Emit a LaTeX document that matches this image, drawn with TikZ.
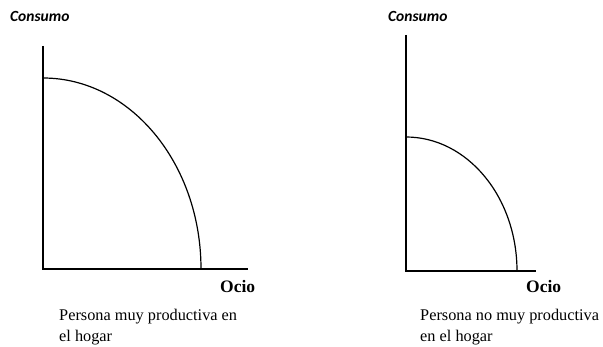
\documentclass[tikz,border=0pt]{standalone}
\usepackage{fontspec}
\setmainfont{Liberation Serif}
\newfontfamily\calib{Carlito}
\begin{document}
\begin{tikzpicture}[x=1pt,y=-1pt,
  axis/.style={line width=2.6pt},
  curve/.style={line width=1.2pt},
  ylab/.style={anchor=base west,inner sep=0pt,font=\calib\bfseries\itshape\fontsize{15.5}{18}\selectfont},
  xlab/.style={anchor=base west,inner sep=0pt,font=\bfseries\fontsize{17.5}{20}\selectfont},
  caption/.style={anchor=base west,inner sep=0pt,font=\fontsize{16.3}{20.5}\selectfont,align=left}]
\useasboundingbox (0,0) rectangle (603,347);
% left graph
\coordinate (O1) at (43,269);
\coordinate (T1) at (43,46);
\coordinate (R1) at (248,269);
\draw[axis] (T1) -- (O1) -- (R1);
\draw[curve] (43,78) arc[start angle=-90,end angle=0,x radius=158,y radius=191];
\node[ylab] (c1) at (10,22) {Consumo};
\node[xlab] (o1) at (220,293) {Ocio};
\node[caption] (p1) at (59,321) {Persona muy productiva en};
\node[caption] (q1) at (59,342) {el hogar};
% right graph
\coordinate (O2) at (406,271);
\coordinate (T2) at (406,35);
\coordinate (R2) at (536,271);
\draw[axis] (T2) -- (O2) -- (R2);
\draw[curve] (406,137) arc[start angle=-90,end angle=0,x radius=111,y radius=134];
\node[ylab] (c2) at (388,22) {Consumo};
\node[xlab] (o2) at (526,293) {Ocio};
\node[caption] (p2) at (420,321) {Persona no muy productiva};
\node[caption] (q2) at (420,342) {en el hogar};
\end{tikzpicture}
\end{document}
